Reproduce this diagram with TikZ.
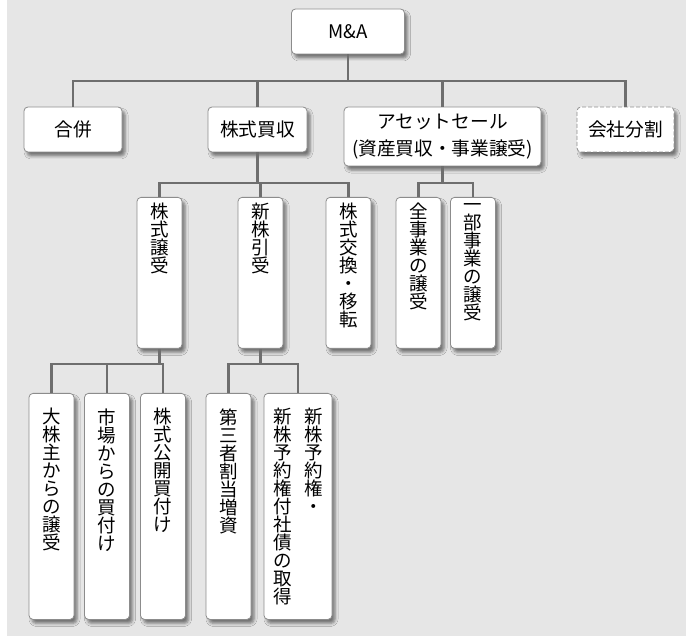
\documentclass[tikz,border=0pt]{standalone}
\usepackage{fontspec}
\setmainfont{Noto Sans CJK JP}
\usetikzlibrary{shadows.blur}
\definecolor{bggray}{HTML}{E6E6E6}
\definecolor{linkgray}{HTML}{6E6E6E}
\definecolor{boxline}{HTML}{8C8C8C}
\newcommand{\tate}[1]{\vtop{\let\\\cr\baselineskip=18pt\lineskiplimit=-20pt\lineskip=0pt\halign{\hfil##\hfil\cr#1\crcr}}}
\newcommand{\tatebox}[4]{\parbox[c][#2pt][t]{#1pt}{\centering\vspace*{#3pt}\leavevmode#4}}
\tikzset{
  box/.style={draw=boxline, fill=white, line width=0.8pt, rounded corners=4pt, inner sep=0pt,
    blur shadow={shadow xshift=3pt, shadow yshift=-4pt, shadow opacity=50, shadow blur radius=3pt}},
  hbox/.style={box, minimum height=45pt, font=\fontsize{18.7}{27}\selectfont},
  vbox/.style={box, anchor=north, font=\fontsize{18.5}{18}\selectfont},
  link/.style={draw=linkgray, line width=2.8pt},
}
\begin{document}
\begin{tikzpicture}[x=1pt, y=-1pt]
\useasboundingbox (0,0) rectangle (686,636);
\fill[bggray] (7,0) rectangle (686,636);
% top levels
\node[hbox, minimum width=113pt] (ma) at (348,31.5) {M\&A};
\node[hbox, minimum width=98pt] (gappei) at (73,129.5) {合併};
\node[hbox, minimum width=99pt] (kabu) at (257.5,129.5) {株式買収};
\node[hbox, minimum width=197pt, minimum height=59pt, align=center] (asset) at (442.5,136.5) {アセットセール\\(資産買収・事業譲受)};
\node[hbox, minimum width=97pt, dashed, dash pattern=on 4pt off 2pt] (bunkatsu) at (625.5,129.5) {会社分割};
% vertical boxes
\node[vbox] (joto) at (159.5,197) {\tatebox{45}{151}{6}{\tate{株\\式\\譲\\受}}};
\node[vbox] (hikiuke) at (260.5,197) {\tatebox{45}{151}{6}{\tate{新\\株\\引\\受}}};
\node[vbox] (kokan) at (348.5,197) {\tatebox{45}{151}{6}{\tate{株\\式\\交\\換\\・\\移\\転}}};
\node[vbox] (zenbu) at (418.5,197) {\tatebox{45}{151}{6}{\tate{全\\事\\業\\の\\譲\\受}}};
\node[vbox] (ichibu) at (473,197) {\tatebox{45}{151}{6}{\tate{一\\部\\事\\業\\の\\譲\\受}}};
\node[vbox] (ookabu) at (51.5,393) {\tatebox{45}{226}{15}{\tate{大\\株\\主\\か\\ら\\の\\譲\\受}}};
\node[vbox] (shijo) at (107,393) {\tatebox{45}{226}{15}{\tate{市\\場\\か\\ら\\の\\買\\付\\け}}};
\node[vbox] (tob) at (163,393) {\tatebox{45}{226}{15}{\tate{株\\式\\公\\開\\買\\付\\け}}};
\node[vbox] (daisan) at (228.5,393) {\tatebox{45}{226}{15}{\tate{第\\三\\者\\割\\当\\増\\資}}};
\node[vbox] (yoyaku) at (298,393) {\tatebox{68}{226}{15}{\tate{新\\株\\予\\約\\権\\付\\社\\債\\の\\取\\得}\hspace{12pt}\tate{新\\株\\予\\約\\権\\・}}};
% connectors
\coordinate (top) at (348,81);
\coordinate (mid) at (258,183);
\coordinate (low) at (107,364);
\draw[link] (ma) -- (top);
\draw[link] (gappei.north) -- (gappei.north |- top) -- (bunkatsu.north |- top) -- (bunkatsu.north);
\draw[link] (kabu.north) -- (kabu.north |- top);
\draw[link] (asset.north) -- (asset.north |- top);
\draw[link] (kabu.south) -- (kabu.south |- mid);
\draw[link] (joto.north) -- (joto.north |- mid) -- (kokan.north |- mid) -- (kokan.north);
\draw[link] (hikiuke.north) -- (hikiuke.north |- mid);
\draw[link] (asset.south) -- (asset.south |- mid);
\draw[link] (zenbu.north) -- (zenbu.north |- mid) -- (ichibu.north |- mid) -- (ichibu.north);
\draw[link] (joto.south) -- (joto.south |- low);
\draw[link] (ookabu.north) -- (ookabu.north |- low) -- (tob.north |- low) -- (tob.north);
\draw[link] (shijo.north) -- (shijo.north |- low);
\draw[link] (hikiuke.south) -- (hikiuke.south |- low);
\draw[link] (daisan.north) -- (daisan.north |- low) -- (yoyaku.north |- low) -- (yoyaku.north);
\end{tikzpicture}
\end{document}
